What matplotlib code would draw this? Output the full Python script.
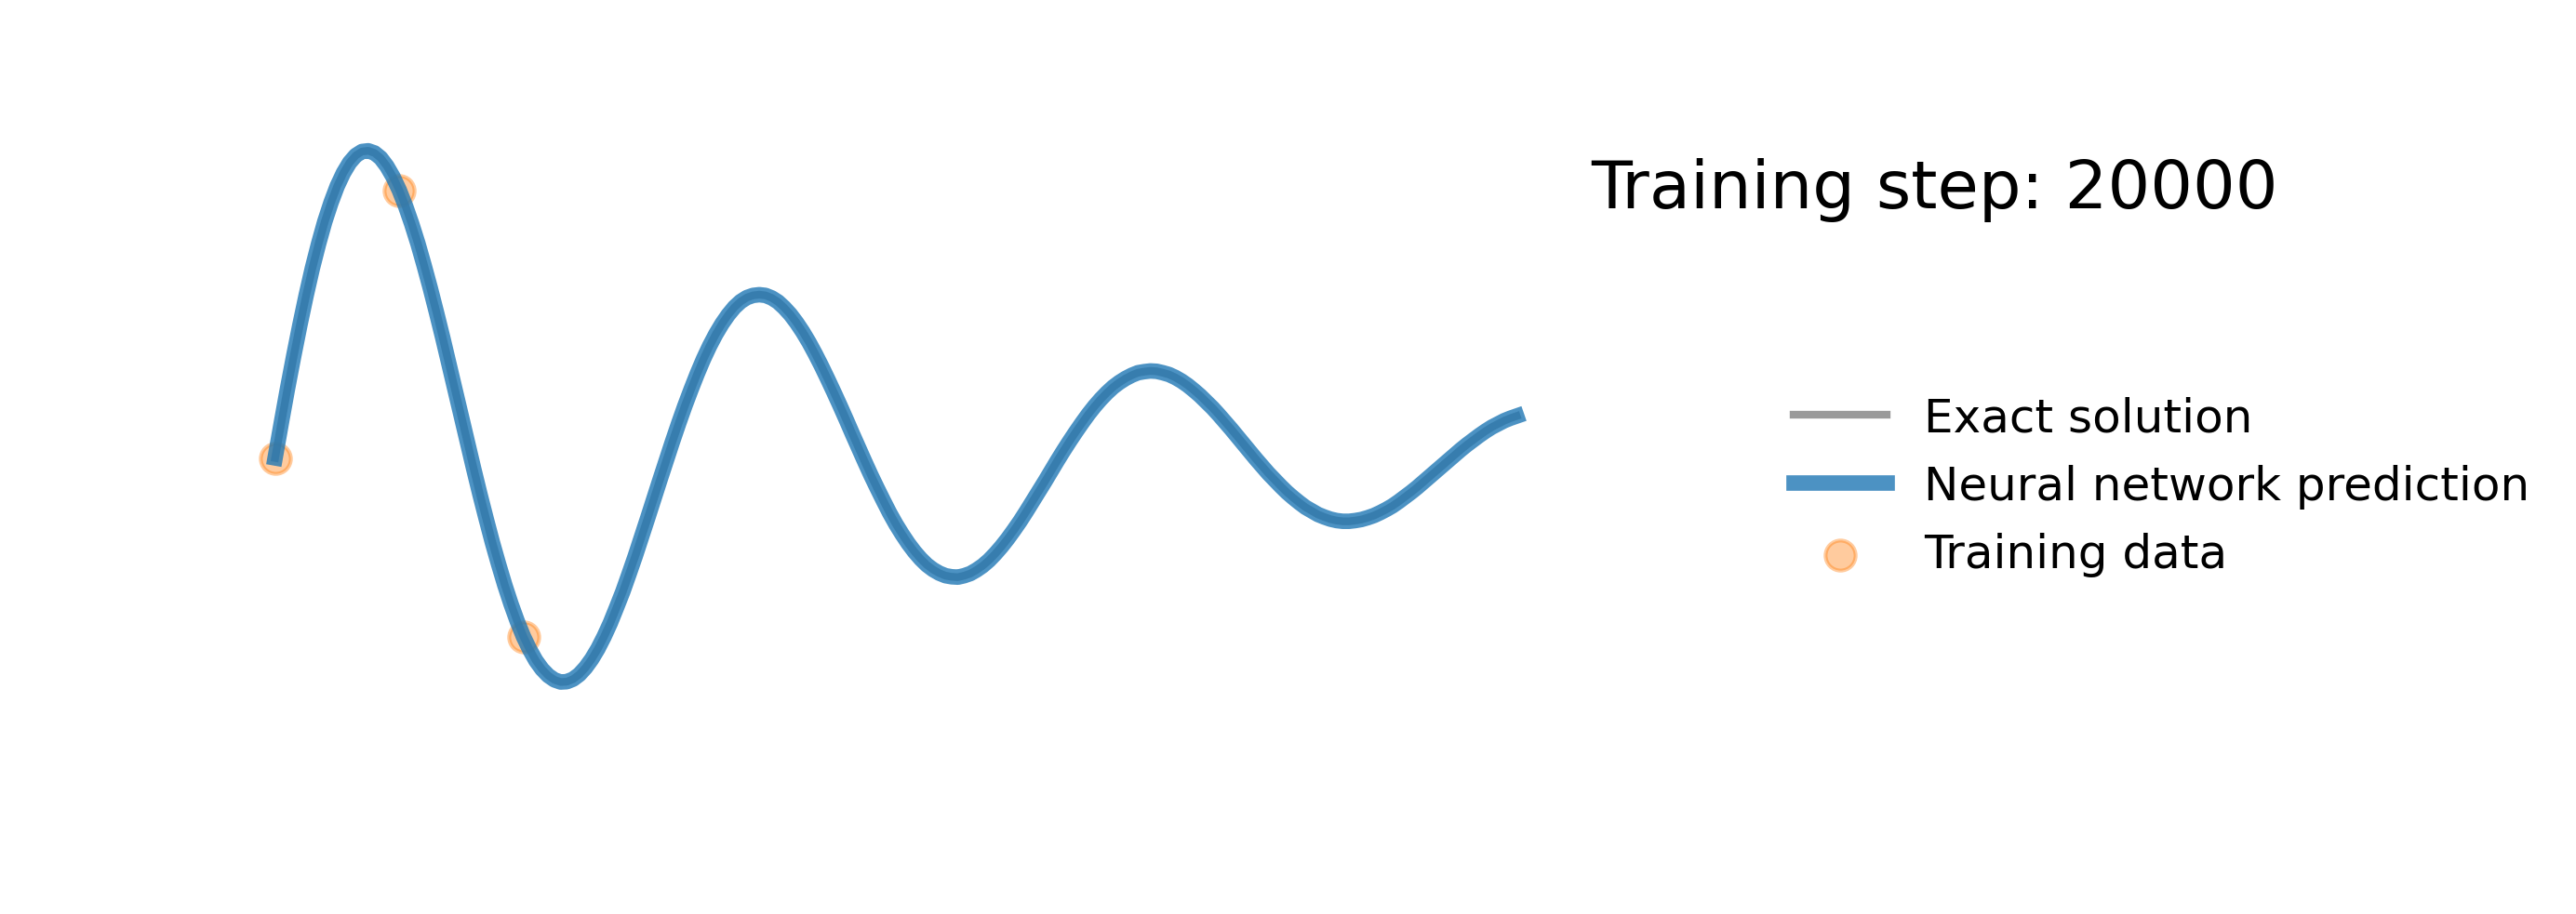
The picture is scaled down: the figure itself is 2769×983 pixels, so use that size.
import matplotlib
matplotlib.use("Agg")
import matplotlib.pyplot as plt

# values (x step 0.005)
x = [i / 200 for i in range(201)]
y_exact = [
    0.000, 0.098, 0.194, 0.285, 0.372, 0.454, 0.530, 0.598, 0.660, 0.713,
    0.759, 0.796, 0.825, 0.845, 0.856, 0.858, 0.852, 0.838, 0.815, 0.785,
    0.748, 0.704, 0.654, 0.599, 0.538, 0.474, 0.406, 0.336, 0.263, 0.190,
    0.116, 0.042, -0.031, -0.102, -0.170, -0.236, -0.297, -0.355, -0.408, -0.456,
    -0.499, -0.535, -0.566, -0.590, -0.608, -0.620, -0.626, -0.625, -0.618, -0.605,
    -0.586, -0.562, -0.533, -0.499, -0.461, -0.418, -0.374, -0.325, -0.275, -0.222,
    -0.169, -0.115, -0.061, -0.008, 0.045, 0.096, 0.145, 0.191, 0.235, 0.276,
    0.313, 0.346, 0.375, 0.400, 0.421, 0.437, 0.448, 0.454, 0.456, 0.454,
    0.447, 0.436, 0.420, 0.401, 0.378, 0.352, 0.323, 0.291, 0.257, 0.221,
    0.184, 0.146, 0.107, 0.067, 0.028, -0.011, -0.049, -0.085, -0.120, -0.154,
    -0.185, -0.213, -0.239, -0.262, -0.282, -0.299, -0.312, -0.322, -0.329, -0.332,
    -0.333, -0.329, -0.323, -0.313, -0.301, -0.286, -0.268, -0.248, -0.226, -0.202,
    -0.177, -0.150, -0.122, -0.094, -0.066, -0.037, -0.008, 0.020, 0.047, 0.073,
    0.098, 0.122, 0.144, 0.164, 0.182, 0.198, 0.211, 0.222, 0.231, 0.238,
    0.241, 0.243, 0.242, 0.238, 0.233, 0.225, 0.215, 0.203, 0.189, 0.174,
    0.157, 0.140, 0.121, 0.101, 0.081, 0.060, 0.039, 0.018, -0.003, -0.023,
    -0.043, -0.061, -0.079, -0.096, -0.111, -0.125, -0.138, -0.148, -0.158, -0.165,
    -0.171, -0.175, -0.177, -0.177, -0.175, -0.172, -0.167, -0.161, -0.153, -0.144,
    -0.134, -0.122, -0.109, -0.096, -0.082, -0.067, -0.052, -0.037, -0.022, -0.007,
    0.008, 0.023, 0.037, 0.050, 0.063, 0.075, 0.086, 0.095, 0.104, 0.111,
    0.117,
]
# prediction at step 20000 sits on top of the exact solution
y_pred = list(y_exact)

x_data = [0.0, 0.1, 0.2]
y_data = [0.0, 0.748, -0.499]

step = 20000

W, H, DPI = 2769, 984, 300
fig = plt.figure(figsize=(W / DPI, H / DPI), dpi=DPI)
ax = fig.add_axes([229 / W, (H - 917) / H, 1468 / W, 847 / H])

ax.plot(x, y_exact, color="grey", linewidth=2, alpha=0.8, label="Exact solution")
ax.plot(x, y_pred, color="tab:blue", linewidth=4, alpha=0.8, label="Neural network prediction")
ax.scatter(x_data, y_data, s=60, color="tab:orange", alpha=0.4, label="Training data")

l = ax.legend(loc=(1.144, 0.326), frameon=False, fontsize="large")
plt.setp(l.get_texts(), color="k")

ax.set_xlim(-0.05, 1.05)
ax.set_ylim(-1.1, 1.1)
ax.text(1.06, 0.7, "Training step: %i" % step, fontsize="xx-large", color="k")
ax.axis("off")

fig.savefig("out.png", dpi=DPI)
